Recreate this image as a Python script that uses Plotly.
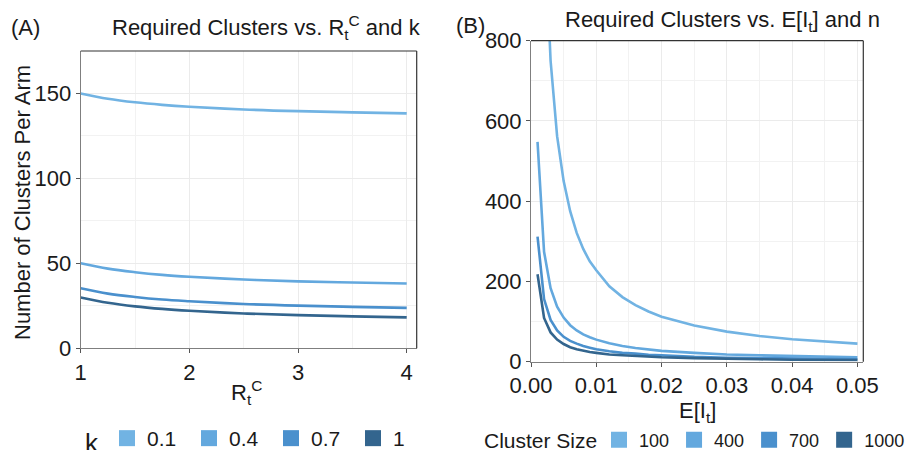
import plotly.graph_objects as go

# ---------------- data ----------------
# Panel A: required clusters vs R_t^C for several k
r_values = [1.0, 1.25, 1.5, 1.75, 2.0, 2.5, 3.0, 3.5, 4.0]
k_labels = ["0.1", "0.4", "0.7", "1"]
clusters_k01 = [150.0, 146.9, 144.8, 143.3, 142.2, 140.6, 139.6, 138.9, 138.3]
clusters_k04 = [50.1, 46.9, 44.8, 43.2, 42.1, 40.5, 39.4, 38.7, 38.1]
clusters_k07 = [35.3, 32.2, 30.2, 28.7, 27.7, 26.1, 25.1, 24.4, 23.8]
clusters_k1 = [29.9, 26.8, 24.7, 23.2, 22.1, 20.5, 19.5, 18.8, 18.2]

# Panel B: required clusters vs E[I_t] for several cluster sizes
e_values = [0.001, 0.002, 0.003, 0.004, 0.005, 0.006, 0.007, 0.008, 0.009, 0.010,
            0.012, 0.014, 0.016, 0.018, 0.020, 0.025, 0.030, 0.035, 0.040, 0.045, 0.050]
n_labels = ["100", "400", "700", "1000"]
clusters_n100 = [2250, 1125, 750, 562, 450, 375, 321, 281, 250, 228,
                 188, 161, 141, 125, 112, 90, 75, 64, 56, 50, 45]
clusters_n400 = [548, 274, 183, 137, 110, 91, 78, 68, 61, 55,
                 46, 39, 34, 30, 27, 22, 18, 16, 14, 12, 11]
clusters_n700 = [312, 156, 104, 78, 62, 52, 45, 39, 35, 31,
                 26, 22, 20, 17, 16, 12, 10, 9, 8, 7, 6]
clusters_n1000 = [218, 109, 73, 55, 44, 36, 31, 27, 24, 22,
                  18, 16, 14, 12, 11, 9, 7, 6, 5, 5, 4.4]

# ---------------- style ----------------
colors = ["#71B3E3", "#63A8DE", "#4A90CD", "#33658E"]
FONT = "Liberation Sans, Arial, Helvetica, sans-serif"
TXT = "#1a1a1a"

W, H = 914, 450

def px_x(x):
    return x / W

def px_y(y):
    return 1 - y / H

fig = go.Figure()

series_a = [clusters_k01, clusters_k04, clusters_k07, clusters_k1]
for lab, ys, c in zip(k_labels, series_a, colors):
    fig.add_trace(go.Scatter(x=r_values, y=ys, mode="lines", line=dict(color=c, width=2.6, shape="spline"),
                             showlegend=False, xaxis="x", yaxis="y", hoverinfo="skip"))
    fig.add_trace(go.Scatter(x=[None], y=[None], mode="markers", name=lab,
                             marker=dict(symbol="square", size=18, color=c),
                             legend="legend", xaxis="x", yaxis="y"))

series_b = [clusters_n100, clusters_n400, clusters_n700, clusters_n1000]
for lab, ys, c in zip(n_labels, series_b, colors):
    fig.add_trace(go.Scatter(x=e_values, y=ys, mode="lines", line=dict(color=c, width=2.6),
                             showlegend=False, xaxis="x2", yaxis="y2", hoverinfo="skip"))
    fig.add_trace(go.Scatter(x=[None], y=[None], mode="markers", name=lab,
                             marker=dict(symbol="square", size=18, color=c),
                             legend="legend2", xaxis="x2", yaxis="y2"))

axis_common = dict(
    showline=True, linecolor="#7f7f7f", linewidth=1,
    ticks="outside", ticklen=4, tickcolor="#555", tickwidth=1,
    showgrid=True, gridcolor="#EBEBEB", gridwidth=1,
    zeroline=False, automargin=False, tickangle=0,
    tickfont=dict(family=FONT, size=22, color=TXT),
)
minor_common = dict(showgrid=True, gridcolor="#F2F2F2", gridwidth=0.8, ticks="")

fig.update_layout(
    width=W, height=H,
    margin=dict(l=0, r=0, t=0, b=0, autoexpand=False),
    paper_bgcolor="white", plot_bgcolor="white",
    font=dict(family=FONT, color=TXT),
    xaxis=dict(domain=[px_x(80.7), px_x(416.7)], range=[1, 4.092], tickvals=[1, 2, 3, 4],
               minor=dict(dtick=0.5, tick0=1, **minor_common), anchor="y", **axis_common),
    yaxis=dict(domain=[px_y(348.3), px_y(51)], range=[0, 175], tickvals=[0, 50, 100, 150],
               minor=dict(dtick=25, tick0=0, **minor_common), anchor="x", **axis_common),
    xaxis2=dict(domain=[px_x(531), px_x(863.3)], range=[0, 0.0509],
                tickvals=[0, 0.01, 0.02, 0.03, 0.04, 0.05], tickformat=".2f",
                minor=dict(dtick=0.005, tick0=0, **minor_common), anchor="y2", **axis_common),
    yaxis2=dict(domain=[px_y(361.7), px_y(40.7)], range=[0, 800], tickvals=[0, 200, 400, 600, 800],
                minor=dict(dtick=100, tick0=0, **minor_common), anchor="x2", **axis_common),
    legend=dict(orientation="h", x=px_x(83), y=px_y(440), xanchor="left", yanchor="middle",
                title=dict(text="k", side="left", font=dict(family=FONT, size=26, color=TXT)),
                font=dict(family=FONT, size=21, color=TXT), bgcolor="rgba(0,0,0,0)",
                itemsizing="trace", entrywidth=37, entrywidthmode="pixels"),
    legend2=dict(orientation="h", x=px_x(599), y=px_y(440), xanchor="left", yanchor="middle",
                 font=dict(family=FONT, size=18, color=TXT), bgcolor="rgba(0,0,0,0)",
                 itemsizing="trace"),
)

# darker top/right panel borders
for xr, yr in [("x", "y"), ("x2", "y2")]:
    fig.add_shape(type="line", xref=f"{xr} domain", yref=f"{yr} domain", x0=0, x1=1, y0=1, y1=1,
                  line=dict(color="#333", width=1.2))
    fig.add_shape(type="line", xref=f"{xr} domain", yref=f"{yr} domain", x0=1, x1=1, y0=0, y1=1,
                  line=dict(color="#333", width=1.2))

ann = [
    dict(text="(A)", x=px_x(9), y=px_y(27), xanchor="left", size=22),
    dict(text="Required Clusters vs. R<sub>t</sub><sup>C</sup> and k", x=px_x(266), y=px_y(27), xanchor="center", size=22),
    dict(text="(B)", x=px_x(454), y=px_y(25), xanchor="left", size=22),
    dict(text="Required Clusters vs. E[I<sub>t</sub>] and n", x=px_x(722), y=px_y(21), xanchor="center", size=22),
    dict(text="R<sub>t</sub><sup>C</sup>", x=px_x(246), y=px_y(392), xanchor="center", size=22),
    dict(text="E[I<sub>t</sub>]", x=px_x(697), y=px_y(412), xanchor="center", size=22),
    dict(text="Cluster Size", x=px_x(482), y=px_y(440), xanchor="left", size=21),
]
for a in ann:
    fig.add_annotation(text=a["text"], x=a["x"], y=a["y"], xref="paper", yref="paper",
                       xanchor=a["xanchor"], yanchor="middle", showarrow=False,
                       font=dict(family=FONT, size=a["size"], color=TXT))

fig.add_annotation(text="Number of Clusters Per Arm", x=px_x(22), y=px_y(203), xref="paper", yref="paper",
                   xanchor="center", yanchor="middle", textangle=-90, showarrow=False,
                   font=dict(family=FONT, size=22, color=TXT))

fig.write_html("out.html")
